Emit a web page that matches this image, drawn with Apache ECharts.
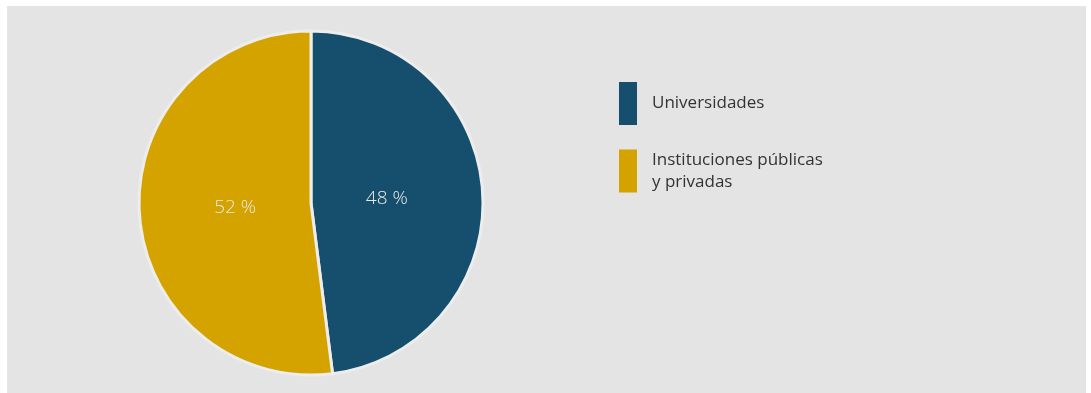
<!DOCTYPE html>
<html>
<head>
<meta charset="utf-8">
<script src="https://cdn.jsdelivr.net/npm/echarts@6/dist/echarts.min.js"></script>
<style>
html,body{margin:0;padding:0;background:#ffffff;}
#wrap{position:absolute;left:7px;top:6px;width:1079px;height:387px;background:#e4e4e4;}
#chart{width:1079px;height:387px;}
</style>
</head>
<body>
<div id="wrap"><div id="chart"></div></div>
<script>
const categories = ["Universidades", "Instituciones públicas\ny privadas"];
const values = [48, 52];
const colors = ["#154f6d", "#d5a300"];

const chart = echarts.init(document.getElementById('chart'), null, {renderer: 'canvas'});
chart.setOption({
  animation: false,
  backgroundColor: 'transparent',
  legend: {
    orient: 'vertical',
    left: 612,
    top: 76,
    padding: 0,
    itemWidth: 18,
    itemHeight: 43,
    itemGap: 24,
    icon: 'rect',
    itemStyle: {borderWidth: 0},
    textStyle: {
      fontFamily: 'Open Sans',
      fontSize: 17,
      color: '#333333',
      lineHeight: 22,
      padding: [0, 0, 0, 10]
    },
    data: categories
  },
  series: [{
    type: 'pie',
    center: [304, 197],
    radius: [0, 172],
    startAngle: 90,
    clockwise: true,
    itemStyle: {borderColor: '#ededed', borderWidth: 3},
    label: {show: false},
    labelLine: {show: false},
    emphasis: {disabled: true},
    data: categories.map((c, i) => ({name: c, value: values[i], itemStyle: {color: colors[i]}}))
  }, {
    type: 'pie',
    center: [304, 197],
    radius: [0, 146],
    startAngle: 90,
    clockwise: true,
    silent: true,
    legendHoverLink: false,
    itemStyle: {color: 'rgba(0,0,0,0)', borderWidth: 0},
    label: {
      show: true,
      position: 'inside',
      formatter: '{c} %',
      color: '#e8e8e8',
      fontFamily: 'Open Sans',
      fontWeight: 300,
      fontSize: 19
    },
    labelLine: {show: false},
    emphasis: {disabled: true},
    data: categories.map((c, i) => ({name: c + ' ', value: values[i]}))
  }]
});
</script>
</body>
</html>
